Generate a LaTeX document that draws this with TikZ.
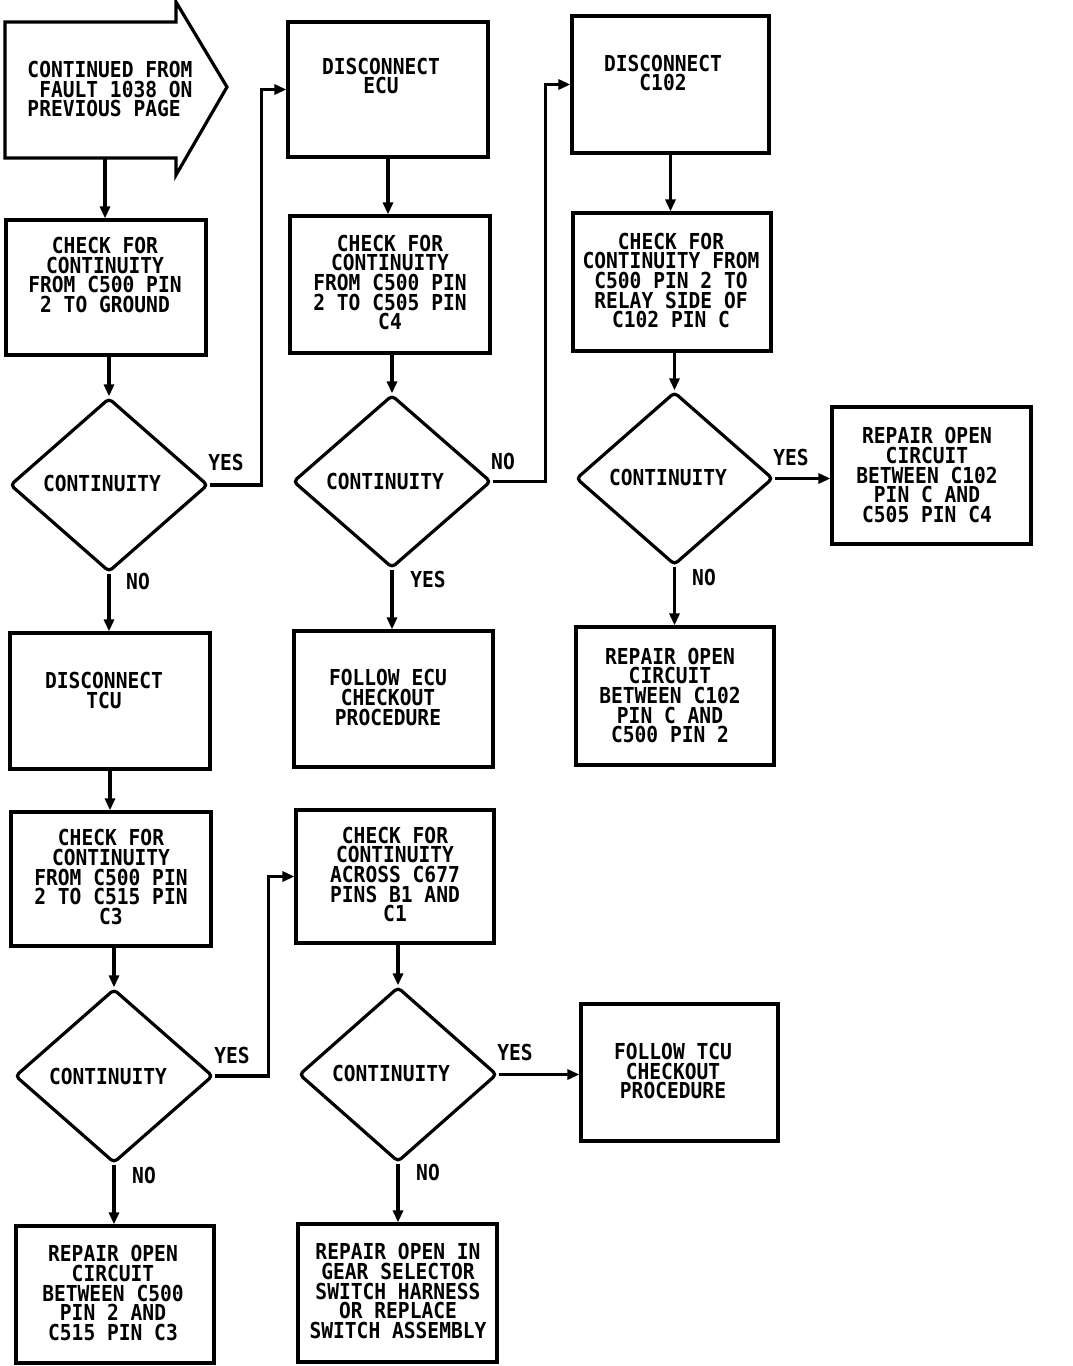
\documentclass[tikz,border=0pt]{standalone}
\usepackage{fontspec}
\newfontfamily\fcmono{DejaVu Sans Mono}[FakeStretch=0.89]
\usetikzlibrary{shapes.geometric,arrows.meta}
\tikzset{
  lw/.style={line width=3.2pt},
  bx/.style={draw,lw,inner sep=0pt,minimum width=#1},
  dia/.style={draw,lw,diamond,inner sep=0pt,minimum width=198pt,minimum height=174pt,rounded corners=4pt},
  txt/.style={inner sep=0pt,align=center,font=\fcmono\bfseries\fontsize{22}{19.7}\selectfont},
  lbl/.style={inner sep=0pt,font=\fcmono\bfseries\fontsize{22}{19.7}\selectfont},
  arr/.style={lw,-{Triangle[length=12pt,width=10pt]}},
}
\begin{document}
\begin{tikzpicture}[x=1pt,y=-1pt]
\useasboundingbox (0,0) rectangle (1072,1366);
\fill[white] (0,0) rectangle (1072,1366);
% start arrow
\draw[lw,line join=miter] (5,22) -- (176,22) -- (176,2) -- (227,87) -- (176,175) -- (176,158) -- (5,158) -- cycle;
\node[txt,align=left] (st) at (110,89) {CONTINUED FROM\\\ FAULT 1038 ON\\PREVIOUS PAGE};
\coordinate (s) at (105,158);
% boxes
\node[bx=200pt,minimum height=135pt] (b1) at (106,287.5) {};
\node[txt] (b1t) at (105,275) {CHECK FOR\\CONTINUITY\\FROM C500 PIN\\2 TO GROUND};
\node[bx=200pt,minimum height=135pt] (b2) at (388,89.5) {};
\node[txt] (b2t) at (381,76) {DISCONNECT\\ECU};
\node[bx=200pt,minimum height=137pt] (b3) at (390,284.5) {};
\node[txt] (b3t) at (390,282.5) {CHECK FOR\\CONTINUITY\\FROM C500 PIN\\2 TO C505 PIN\\C4};
\node[bx=199pt,minimum height=136pt] (fecu) at (393.5,699) {};
\node[txt] (fecut) at (388,697.5) {FOLLOW ECU\\CHECKOUT\\PROCEDURE};
\node[bx=197pt,minimum height=137pt] (b4) at (670.5,84.5) {};
\node[txt] (b4t) at (663,73) {DISCONNECT\\C102};
\node[bx=198pt,minimum height=138pt] (b5) at (672,282) {};
\node[txt] (b5t) at (671,280.5) {CHECK FOR\\CONTINUITY FROM\\C500 PIN 2 TO\\RELAY SIDE OF\\C102 PIN C};
\node[bx=199pt,minimum height=137pt] (r1) at (931.5,475.5) {};
\node[txt] (r1t) at (927,475) {REPAIR OPEN\\CIRCUIT\\BETWEEN C102\\PIN C AND\\C505 PIN C4};
\node[bx=198pt,minimum height=138pt] (r2) at (675,696) {};
\node[txt] (r2t) at (670,695.5) {REPAIR OPEN\\CIRCUIT\\BETWEEN C102\\PIN C AND\\C500 PIN 2};
\node[bx=200pt,minimum height=136pt] (tcu) at (110,701) {};
\node[txt] (tcut) at (104,690.5) {DISCONNECT\\TCU};
\node[bx=200pt,minimum height=134pt] (b6) at (111,879) {};
\node[txt] (b6t) at (111,877) {CHECK FOR\\CONTINUITY\\FROM C500 PIN\\2 TO C515 PIN\\C3};
\node[bx=198pt,minimum height=137pt] (r3) at (115,1294.5) {};
\node[txt] (r3t) at (113,1293) {REPAIR OPEN\\CIRCUIT\\BETWEEN C500\\PIN 2 AND\\C515 PIN C3};
\node[bx=198pt,minimum height=133pt] (b7) at (395,876.5) {};
\node[txt] (b7t) at (395,874.5) {CHECK FOR\\CONTINUITY\\ACROSS C677\\PINS B1 AND\\C1};
\node[bx=197pt,minimum height=137pt] (ftcu) at (679.5,1072.5) {};
\node[txt] (ftcut) at (673,1071) {FOLLOW TCU\\CHECKOUT\\PROCEDURE};
\node[bx=199pt,minimum height=138pt] (r4) at (397.5,1293) {};
\node[txt] (r4t) at (398,1291) {REPAIR OPEN IN\\GEAR SELECTOR\\SWITCH HARNESS\\OR REPLACE\\SWITCH ASSEMBLY};
% diamonds
\node[dia] (d1) at (109,485) {};
\node[txt] (d1t) at (102,483) {CONTINUITY};
\node[dia,minimum height=173pt] (d2) at (392,481.5) {};
\node[txt] (d2t) at (385,481) {CONTINUITY};
\node[dia,minimum width=197pt,minimum height=173pt] (d3) at (674.5,478.5) {};
\node[txt] (d3t) at (668,477) {CONTINUITY};
\node[dia] (d4) at (114,1076) {};
\node[txt] (d4t) at (108,1076) {CONTINUITY};
\node[dia,minimum height=175pt] (d5) at (398,1074.5) {};
\node[txt] (d5t) at (391,1073) {CONTINUITY};
% connectors
\draw[arr] (s) -- (s |- b1.north);
\draw[arr] (d1.north |- b1.south) -- (d1.north);
\draw[arr] (d1.east) -- ++(52,0) |- (b2.west);
\draw[arr] (d1.south) -- (d1.south |- tcu.north);
\draw[arr] (b2.south) -- (b2.south |- b3.north);
\draw[arr] (d2.north |- b3.south) -- (d2.north);
\draw[arr] (d2.east) -- ++(53,0) |- (b4.west);
\draw[arr] (d2.south) -- (d2.south |- fecu.north);
\draw[arr] (b4.south) -- (b4.south |- b5.north);
\draw[arr] (d3.north |- b5.south) -- (d3.north);
\draw[arr] (d3.east) -- (d3.east -| r1.west);
\draw[arr] (d3.south) -- (d3.south |- r2.north);
\draw[arr] (tcu.south) -- (tcu.south |- b6.north);
\draw[arr] (d4.north |- b6.south) -- (d4.north);
\draw[arr] (d4.east) -- ++(54,0) |- (b7.west);
\draw[arr] (d4.south) -- (d4.south |- r3.north);
\draw[arr] (d5.north |- b7.south) -- (d5.north);
\draw[arr] (d5.east) -- (d5.east -| ftcu.west);
\draw[arr] (d5.south) -- (d5.south |- r4.north);
% labels
\node[lbl] (l1) at (226,462) {YES};
\node[lbl] (l2) at (138,581) {NO};
\node[lbl] (l3) at (503,461) {NO};
\node[lbl] (l4) at (428,579) {YES};
\node[lbl] (l5) at (791,457) {YES};
\node[lbl] (l6) at (704,577) {NO};
\node[lbl] (l7) at (232,1055) {YES};
\node[lbl] (l8) at (144,1175) {NO};
\node[lbl] (l9) at (515,1052) {YES};
\node[lbl] (l10) at (428,1172) {NO};
\end{tikzpicture}
\end{document}
